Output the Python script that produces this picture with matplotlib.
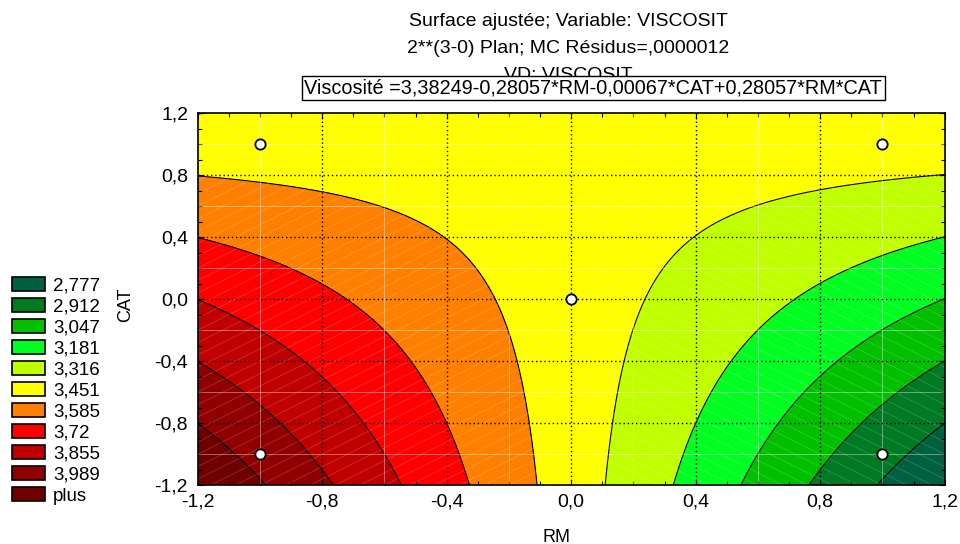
import numpy as np
import matplotlib.pyplot as plt
from matplotlib.patches import Patch

plt.rcParams['font.family'] = ['Liberation Sans', 'DejaVu Sans']

# fitted model: Viscosite = b0 + b1*RM + b2*CAT + b12*RM*CAT
b0, b1, b2, b12 = 3.38249, -0.28057, -0.00067, 0.28057

# contour class upper bounds (legend), last class is "plus"
bounds = [2.777, 2.912, 3.047, 3.181, 3.316, 3.451, 3.585, 3.72, 3.855, 3.989]
legend_labels = ['2,777', '2,912', '3,047', '3,181', '3,316', '3,451',
                 '3,585', '3,72', '3,855', '3,989', 'plus']
colors = ['#00603f', '#007a23', '#00c000', '#00ff21', '#c0ff00', '#ffff00',
          '#ff8000', '#ff0000', '#c00000', '#900000', '#700000']

# design points (2^3 plan, center replicates)
pts_rm = [-1, 1, -1, 1, 0]
pts_cat = [-1, -1, 1, 1, 0]

ticks = [-1.2, -0.8, -0.4, 0.0, 0.4, 0.8, 1.2]

rm = np.linspace(-1.2, 1.2, 241)
cat = np.linspace(-1.2, 1.2, 241)
RM, CAT = np.meshgrid(rm, cat)
Z = b0 + b1 * RM + b2 * CAT + b12 * RM * CAT

fig = plt.figure(figsize=(9.6, 5.44), dpi=100)
ax = fig.add_axes([0.206, 0.108, 0.778, 0.684])

levels = [Z.min() - 1] + bounds + [Z.max() + 1]
ax.contourf(RM, CAT, Z, levels=levels, colors=colors)
ax.contour(RM, CAT, Z, levels=bounds, colors='k', linewidths=0.8)

# faint mesh diagonals
step = 0.08
for k in np.arange(-3.0, 3.0, step):
    xl = np.array([-1.2, 0.0])
    ax.plot(xl, xl + k, color='white', lw=0.5, alpha=0.22)
    xr = np.array([0.0, 1.2])
    ax.plot(xr, -xr + k, color='white', lw=0.5, alpha=0.22)

# light minor grid
for v in np.arange(-1.0, 1.2, 0.4):
    ax.axvline(v, color='white', lw=0.6, alpha=0.45)
    ax.axhline(v, color='white', lw=0.6, alpha=0.45)
# dotted major grid
for v in ticks[1:-1]:
    ax.axvline(v, color='k', lw=1.0, ls=(0, (1, 2)))
    ax.axhline(v, color='k', lw=1.0, ls=(0, (1, 2)))

ax.scatter(pts_rm, pts_cat, s=55, facecolor='white', edgecolor='k',
           linewidth=1.3, zorder=5)

ax.set_xlim(-1.2, 1.2)
ax.set_ylim(-1.2, 1.2)
fmt = lambda v: ('%.1f' % v).replace('.', ',').replace('-0,0', '0,0')
ax.set_xticks(ticks)
ax.set_xticklabels([fmt(t) for t in ticks], fontsize=14)
ax.set_yticks(ticks)
ax.set_yticklabels([fmt(t) for t in ticks], fontsize=14)
ax.set_xticks(np.arange(-1.2, 1.21, 0.1), minor=True)
ax.set_yticks(np.arange(-1.2, 1.21, 0.1), minor=True)
ax.tick_params(which='both', direction='in', top=True, right=True,
               length=3, width=0.8)
ax.tick_params(which='major', length=4)
ax.tick_params(axis='x', which='major', pad=6)
ax.tick_params(axis='y', which='major', pad=7)
for s in ax.spines.values():
    s.set_linewidth(1.2)

ax.text(0.4806, -0.14, 'RM', transform=ax.transAxes, ha='center',
        va='center', fontsize=13)
ax.text(-0.096, 0.484, 'CAT', transform=ax.transAxes, ha='center',
        va='center', rotation=90, fontsize=13)

fig.text(0.592, 0.96, 'Surface ajustée; Variable: VISCOSIT', ha='center',
         va='center', fontsize=14)
fig.text(0.592, 0.91, '2**(3-0) Plan; MC Résidus=,0000012', ha='center',
         va='center', fontsize=14)
fig.text(0.592, 0.862, 'VD: VISCOSIT', ha='center', va='center', fontsize=14)
fig.text(0.618, 0.838, 'Viscosité =3,38249-0,28057*RM-0,00067*CAT+0,28057*RM*CAT',
         ha='center', va='center', fontsize=14.3,
         bbox=dict(boxstyle='square,pad=0.12', facecolor='white',
                   edgecolor='k', linewidth=1.0))

handles = [Patch(facecolor=c, edgecolor='k', linewidth=1.2) for c in colors]
fig.legend(handles, legend_labels, loc='upper left',
           bbox_to_anchor=(0.012, 0.49), frameon=False, fontsize=13.5,
           handlelength=1.76, handleheight=0.75, labelspacing=0.19,
           handletextpad=0.45, borderpad=0, borderaxespad=0)

fig.savefig('out.png', dpi=100)
